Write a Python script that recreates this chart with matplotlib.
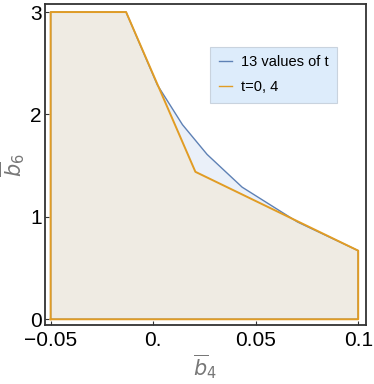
import matplotlib.pyplot as plt
from matplotlib.lines import Line2D

# ---- data ----
# t=0, 4 polygon (orange)
orange_x = [-0.05, -0.05, -0.0132, 0.0206, 0.1, 0.1]
orange_y = [0.0, 3.0, 3.0, 1.44, 0.67, 0.0]

# 13 values of t: upper boundary where it leaves the orange one (blue)
blue_x = [0.002, 0.0143, 0.0263, 0.0434, 0.0704]
blue_y = [2.29, 1.90, 1.61, 1.29, 0.95]

x_ticks = [-0.05, 0.0, 0.05, 0.1]
x_ticklabels = ["\u22120.05", "0.", "0.05", "0.1"]
y_ticks = [0, 1, 2, 3]
y_ticklabels = ["0", "1", "2", "3"]

legend_labels = ["13 values of t", "t=0, 4"]

BLUE = "#5e81b5"
ORANGE = "#e19c24"

plt.rcParams['font.family'] = ['Liberation Sans', 'DejaVu Sans']

fig = plt.figure(figsize=(3.74, 3.84), dpi=100)
ax = fig.add_axes([0.1195, 0.1536, 0.858, 0.835])

# blue region = orange polygon with the upper right edge swapped for the blue curve
blue_poly_x = orange_x[:3] + blue_x + orange_x[4:]
blue_poly_y = orange_y[:3] + blue_y + orange_y[4:]

ax.fill(blue_poly_x, blue_poly_y, color="#eaf0f9", lw=0, zorder=1)
ax.fill(orange_x, orange_y, color="#efebe3", lw=0, zorder=2)
ax.plot(blue_poly_x + blue_poly_x[:1], blue_poly_y + blue_poly_y[:1], color=BLUE, lw=1.0, zorder=3)
ax.plot(orange_x + orange_x[:1], orange_y + orange_y[:1], color=ORANGE, lw=1.4, zorder=4)

ax.set_xlim(-0.0529, 0.1036)
ax.set_ylim(-0.056, 3.075)
ax.set_xticks(x_ticks)
ax.set_xticklabels(x_ticklabels, fontsize=15)
ax.set_yticks(y_ticks)
ax.set_yticklabels(y_ticklabels, fontsize=15)
ax.tick_params(direction='in', length=3, width=0.8, color='#333333', pad=4)
ax.tick_params(axis='y', pad=2)
for s in ax.spines.values():
    s.set_color('#333333')
    s.set_linewidth(1.3)

ax.set_xlabel(r'$\overline{b}_4$', fontsize=15, color='#777777', labelpad=2)
ax.set_ylabel(r'$\overline{b}_6$', fontsize=15, color='#777777', labelpad=2)

handles = [Line2D([], [], color=BLUE, lw=1.0), Line2D([], [], color=ORANGE, lw=1.0)]
leg = ax.legend(handles, legend_labels, loc='upper left', bbox_to_anchor=(0.515, 0.868),
                borderaxespad=0, fontsize=10.5, handlelength=0.9, handletextpad=0.6,
                labelspacing=0.75, fancybox=False, framealpha=1.0, borderpad=0.6)
leg.get_frame().set_facecolor('#ddecfb')
leg.get_frame().set_edgecolor('#c9d3de')
leg.get_frame().set_linewidth(0.8)

fig.savefig('out.png', dpi=100)
